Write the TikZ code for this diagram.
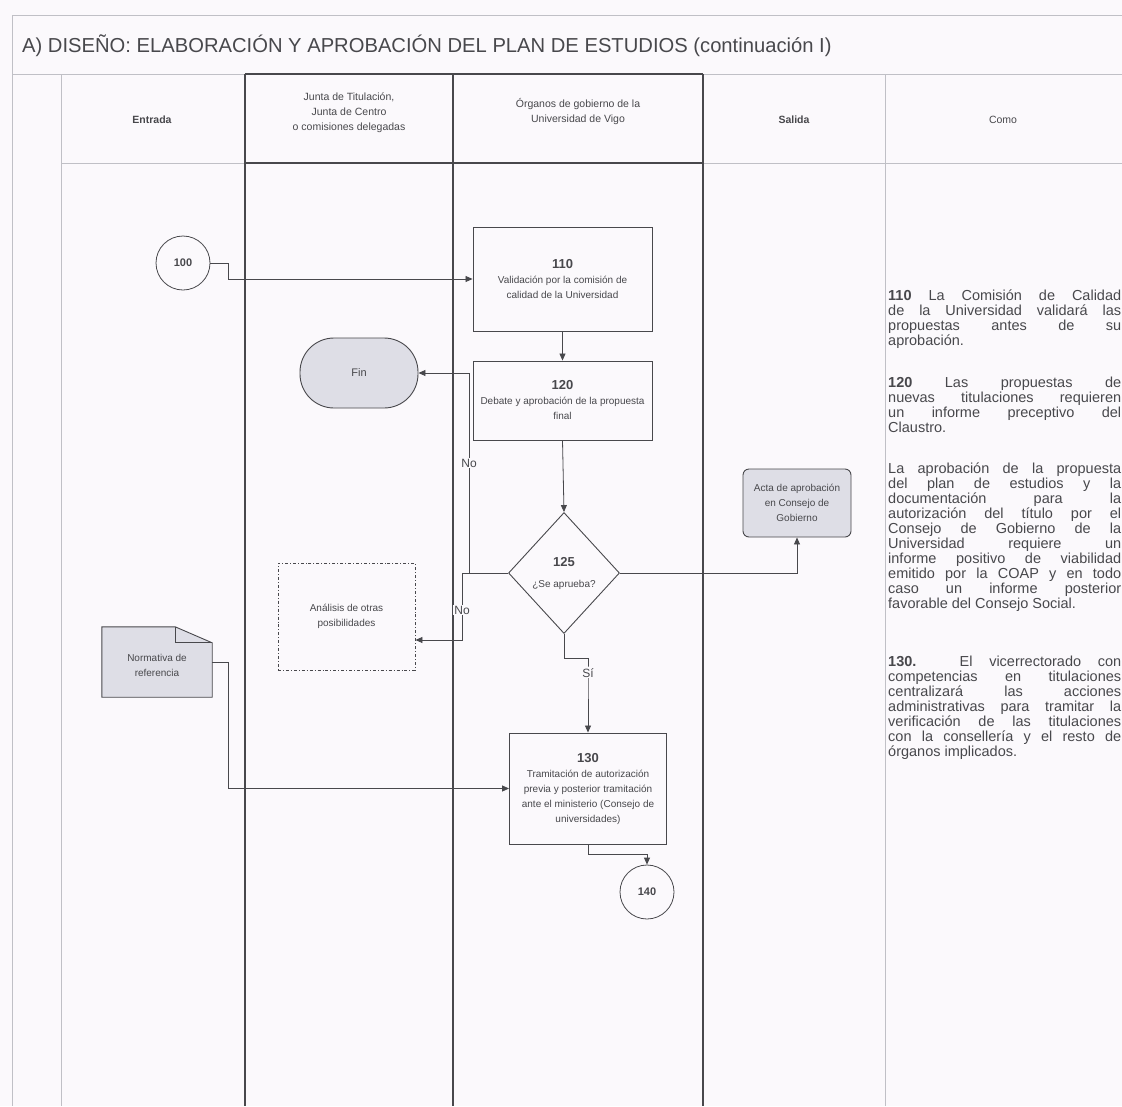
\documentclass[tikz,border=0pt]{standalone}
\usepackage{fontspec}
\setmainfont{Liberation Sans}
\usetikzlibrary{shapes.geometric,arrows.meta}

\definecolor{paper}{RGB}{251,249,252}
\definecolor{ink}{RGB}{72,72,76}
\definecolor{lanegray}{RGB}{192,192,198}
\definecolor{boxgray}{RGB}{222,222,230}

\tikzset{
  proc/.style={draw=ink, line width=0.9pt, align=center, inner sep=2pt, text=ink,
    font=\fontsize{10}{15}\selectfont},
  graybox/.style={proc, fill=boxgray},
  conn/.style={draw=ink, circle, line width=0.8pt, minimum size=54pt, inner sep=0pt,
    text=ink, font=\bfseries\fontsize{11}{13}\selectfont},
  lbl/.style={fill=paper, inner sep=1pt, text=ink, font=\fontsize{12}{14}\selectfont},
  hdr/.style={align=center, text=ink, font=\fontsize{10.5}{15}\selectfont},
  flow/.style={->, draw=ink, line width=0.8pt},
  note/.style={anchor=north west, inner sep=0pt, text width=233pt, align=justify,
    text=ink, font=\fontsize{14.5}{15}\selectfont}
}

\begin{document}
\begin{tikzpicture}[>={Triangle[length=7pt,width=6pt]}, x=1pt, y=-1pt]
  \useasboundingbox (0,0) rectangle (1122,1106);
  \clip (0,0) rectangle (1122,1106);
  \fill[paper] (0,0) rectangle (1122,1106);

  % frame and lanes
  \draw[lanegray, line width=1pt] (12,15) -- (1122,15);
  \draw[lanegray, line width=1pt] (12,15) -- (12,1106);
  \draw[lanegray, line width=1pt] (12,74) -- (1122,74);
  \draw[lanegray, line width=1pt] (61,74) -- (61,1106);
  \draw[lanegray, line width=1pt] (885,74) -- (885,1106);
  \draw[lanegray, line width=1pt] (61,163) -- (245,163);
  \draw[lanegray, line width=1pt] (703,163) -- (1122,163);
  \draw[ink, line width=1.2pt] (245,74) -- (703,74);
  \draw[ink, line width=2pt] (245,163) -- (703,163);
  \foreach \lx in {245,453,703}
    \draw[ink, line width=1.2pt] (\lx,74) -- (\lx,1106);

  \node[anchor=west, inner sep=0pt, text=ink, font=\fontsize{20.2}{22}\selectfont] (title) at (22,46)
    {A) DISEÑO: ELABORACIÓN Y APROBACIÓN DEL PLAN DE ESTUDIOS (continuación I)};

  \node[hdr, font=\bfseries\fontsize{10.5}{15}\selectfont] (hentrada) at (152,120) {Entrada};
  \node[hdr] (hjunta) at (349,113) {Junta de Titulación,\\ Junta de Centro\\ o comisiones delegadas};
  \node[hdr] (horganos) at (578,112) {Órganos de gobierno de la\\ Universidad de Vigo};
  \node[hdr, font=\bfseries\fontsize{10.5}{15}\selectfont] (hsalida) at (794,120) {Salida};
  \node[hdr] (hcomo) at (1003,120) {Como};

  % flow
  \node[conn] (c100) at (183,263) {100};
  \node[proc, minimum width=179pt, minimum height=104pt] (n110) at (562.5,279)
    {{\bfseries\fontsize{13}{16}\selectfont 110}\\ Validación por la comisión de\\ calidad de la Universidad};
  \node[proc, minimum width=179pt, minimum height=79pt] (n120) at (562.5,400.5)
    {{\bfseries\fontsize{13}{16}\selectfont 120}\\ Debate y aprobación de la propuesta\\ final};
  \node[graybox, rounded corners=34pt, minimum width=118pt, minimum height=70pt,
    font=\fontsize{11}{13}\selectfont] (fin) at (359,373) {Fin};
  \node[proc, diamond, minimum width=111pt, minimum height=121pt, inner sep=0pt] (d125) at (564,573)
    {{\bfseries\fontsize{13}{16}\selectfont 125}\\[6pt] ¿Se aprueba?};
  \node[graybox, rounded corners=6pt, minimum width=108pt, minimum height=68pt] (acta) at (797,503)
    {Acta de aprobación\\ en Consejo de\\ Gobierno};
  \node[proc, dash dot, minimum width=137pt, minimum height=107pt] (ana) at (346.5,616.5)
    {Análisis de otras\\ posibilidades};
  \node[minimum width=110pt, minimum height=70pt] (norm) at (157,662) {};
  \draw[ink, line width=0.9pt, fill=boxgray] (norm.south west) -- (norm.north west)
    -- ([xshift=-37pt]norm.north east) -- ([yshift=-16pt]norm.north east)
    -- (norm.south east) -- cycle;
  \draw[ink, line width=0.9pt] ([xshift=-37pt]norm.north east)
    -- ([xshift=-37pt, yshift=-16pt]norm.north east) -- ([yshift=-16pt]norm.north east);
  \node[align=center, text=ink, font=\fontsize{10}{15}\selectfont] (normtxt) at ([yshift=-3pt]norm.center)
    {Normativa de\\ referencia};
  \node[proc, minimum width=157pt, minimum height=111pt] (n130) at (588,788.5)
    {{\bfseries\fontsize{13}{16}\selectfont 130}\\ Tramitación de autorización\\ previa y posterior tramitación\\
     ante el ministerio (Consejo de\\ universidades)};
  \node[conn] (c140) at (647,892) {140};

  \draw[flow] (c100.east) -- ++(18,0) |- (n110.west);
  \draw[flow] (n110.south) -- (n120.north);
  \draw[flow] (n120.south) -- (d125.north);
  \draw[flow] (d125.west) -- ++(-39,0) -- ++(0,-110) node[lbl] {No} |- (fin.east);
  \draw[flow] (d125.west) -- ++(-46,0) -- ++(0,37) node[lbl] {No} |- ([yshift=-23.5pt]ana.east);
  \draw[flow] (d125.east) -| (acta.south);
  \draw[flow] (d125.south) -- ++(0,24) -- ++(24,0) -- ++(0,15) node[lbl] {Sí} -- (n130.north);
  \draw[flow] (norm.east) -- ++(16,0) |- (n130.west);
  \draw[flow] (n130.south) -- ++(0,10) -| (c140.north);

  % notes
  \node[note] (t110) at (888,290)
    {\textbf{110} La Comisión de Calidad\linebreak de la Universidad validará las\linebreak
     propuestas antes de su\linebreak aprobación.};
  \node[note] (t120) at (888,377)
    {\textbf{120} Las propuestas de\linebreak nuevas titulaciones requieren\linebreak
     un informe preceptivo del\linebreak Claustro.};
  \node[note] (tapr) at (888,463)
    {La aprobación de la propuesta\linebreak del plan de estudios y la\linebreak
     documentación para la\linebreak autorización del título por el\linebreak
     Consejo de Gobierno de la\linebreak Universidad requiere un\linebreak
     informe positivo de viabilidad\linebreak emitido por la COAP y en todo\linebreak
     caso un informe posterior\linebreak favorable del Consejo Social.};
  \node[note] (t130) at (888,656)
    {\textbf{130.} El vicerrectorado con\linebreak competencias en titulaciones\linebreak
     centralizará las acciones\linebreak administrativas para tramitar la\linebreak
     verificación de las titulaciones\linebreak con la consellería y el resto de\linebreak
     órganos implicados.};
\end{tikzpicture}
\end{document}
